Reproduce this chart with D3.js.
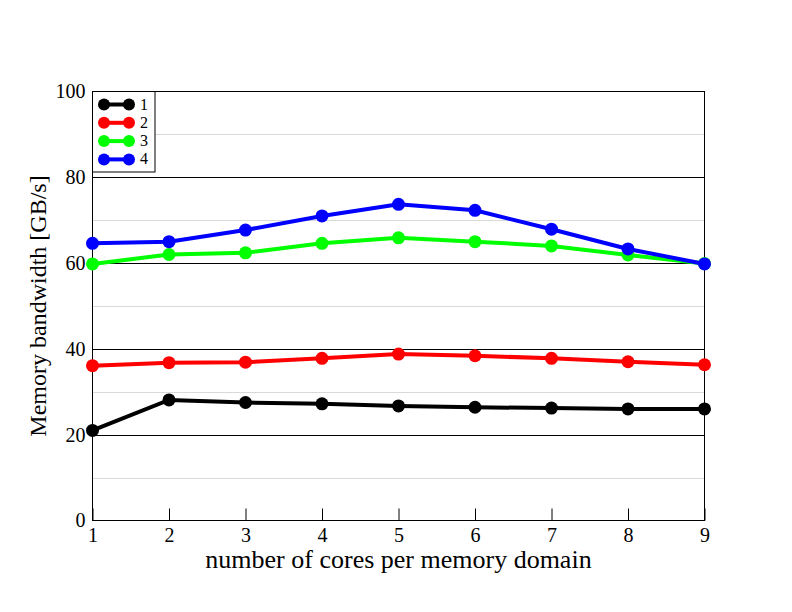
<!DOCTYPE html>
<html><head><meta charset="utf-8">
<script src="https://cdn.jsdelivr.net/npm/d3@7"></script>
<style>body{margin:0;background:#fff}svg{display:block}text{font-family:"Liberation Serif","Times New Roman",serif;fill:#000}</style>
</head><body><svg id="c" width="792" height="612"></svg>
<script>
const cores = [1,2,3,4,5,6,7,8,9];
const seriesNames = ["1","2","3","4"];
const seriesColors = ["#000000","#ff0000","#00ff00","#0000ff"];
const s1 = [21.0,28.1,27.5,27.2,26.7,26.4,26.2,26.0,26.0];
const s2 = [36.1,36.8,36.9,37.8,38.8,38.4,37.8,37.0,36.3];
const s3 = [59.8,62.0,62.4,64.6,65.9,65.0,64.0,61.9,59.9];
const s4 = [64.6,65.0,67.7,71.0,73.7,72.3,67.9,63.3,59.8];
const yTicks = [0,20,40,60,80,100];
const yMinor = [10,30,50,70,90];
const xLabel = "number of cores per memory domain";
const yLabel = "Memory bandwidth [GB/s]";
const series = [s1,s2,s3,s4];

const svg = d3.select("#c");
const L=92.5,R=704.5,T=91.5,B=520.5;
const x = d3.scaleLinear().domain([1,9]).range([L,R]);
const y = d3.scaleLinear().domain([0,100]).range([B,T]);

svg.append("g").selectAll("line").data(yMinor).join("line")
  .attr("x1",L).attr("x2",R).attr("y1",d=>Math.round(y(d))+0.5).attr("y2",d=>Math.round(y(d))+0.5)
  .attr("stroke","#d9d9d9").attr("stroke-width",1);
svg.append("g").selectAll("line").data(yTicks.slice(1,-1)).join("line")
  .attr("x1",L).attr("x2",R).attr("y1",d=>Math.round(y(d))+0.5).attr("y2",d=>Math.round(y(d))+0.5)
  .attr("stroke","#000").attr("stroke-width",1);

const xAx = svg.append("g").attr("transform",`translate(0,${B})`)
  .call(d3.axisBottom(x).tickValues(cores).tickFormat(d3.format("d")).tickSizeInner(-12).tickSizeOuter(0).tickPadding(15));
xAx.select(".domain").remove();
xAx.selectAll("text").attr("font-size",20).attr("dy","0.3em");
const yAx = svg.append("g").attr("transform",`translate(${L},0)`)
  .call(d3.axisLeft(y).tickValues(yTicks).tickSizeInner(0).tickSizeOuter(0).tickPadding(7));
yAx.select(".domain").remove();
yAx.selectAll("text").attr("font-size",20);
svg.append("rect").attr("x",L).attr("y",T).attr("width",R-L).attr("height",B-T)
  .attr("fill","none").attr("stroke","#000").attr("stroke-width",1);

const line = d3.line().x((d,i)=>x(cores[i])).y(d=>y(d));
series.forEach((s,k)=>{
  svg.append("path").datum(s).attr("d",line).attr("fill","none")
    .attr("stroke",seriesColors[k]).attr("stroke-width",4);
  svg.append("g").selectAll("circle").data(s).join("circle")
    .attr("cx",(d,i)=>x(cores[i])).attr("cy",d=>y(d)).attr("r",6.5).attr("fill",seriesColors[k]);
});

const lg = svg.append("g");
lg.append("rect").attr("x",L).attr("y",T).attr("width",62.5).attr("height",80.5)
  .attr("fill","#fff").attr("stroke","#000");
seriesNames.forEach((n,k)=>{
  const yy = 104.5 + k*18.3;
  lg.append("line").attr("x1",104).attr("x2",129).attr("y1",yy).attr("y2",yy).attr("stroke",seriesColors[k]).attr("stroke-width",4);
  lg.append("circle").attr("cx",104).attr("cy",yy).attr("r",6).attr("fill",seriesColors[k]);
  lg.append("circle").attr("cx",129).attr("cy",yy).attr("r",6).attr("fill",seriesColors[k]);
  lg.append("text").attr("x",140).attr("y",yy+5).attr("font-size",16).text(n);
});

svg.append("text").attr("x",(L+R)/2).attr("y",568).attr("text-anchor","middle").attr("font-size",26).text(xLabel);
svg.append("text").attr("transform",`translate(46,306) rotate(-90)`).attr("text-anchor","middle").attr("font-size",24).text(yLabel);
</script></body></html>
